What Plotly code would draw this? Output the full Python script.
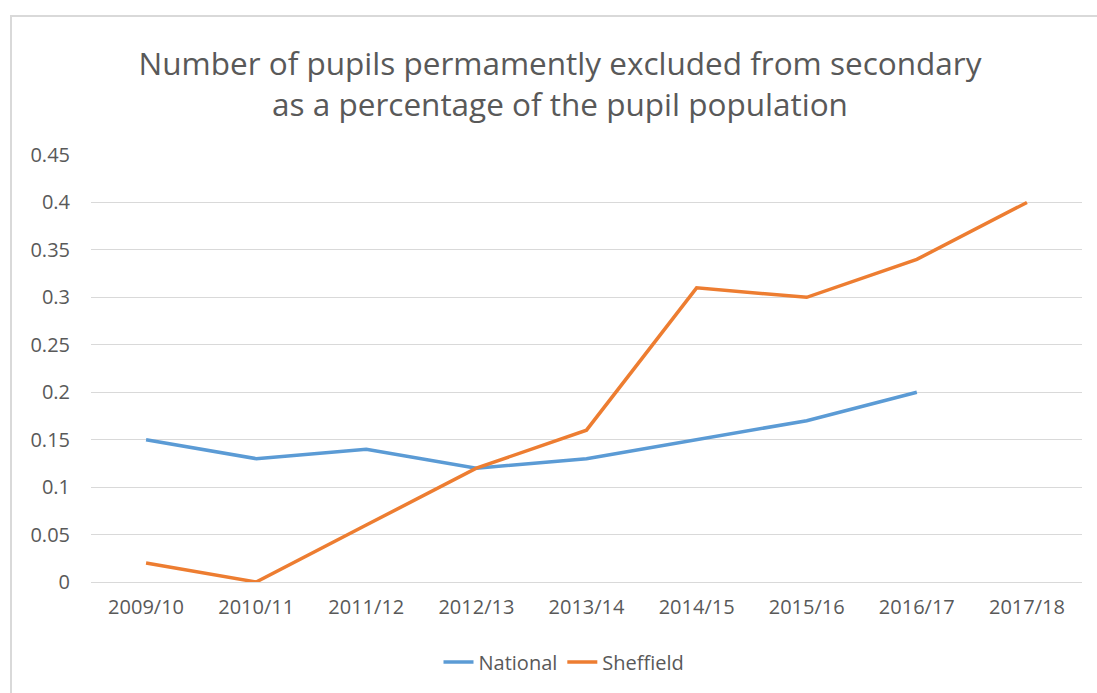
import plotly.graph_objects as go

categories = ["2009/10", "2010/11", "2011/12", "2012/13", "2013/14", "2014/15", "2015/16", "2016/17", "2017/18"]
national = [0.15, 0.13, 0.14, 0.12, 0.13, 0.15, 0.17, 0.20, None]
sheffield = [0.02, 0.0, 0.06, 0.12, 0.16, 0.31, 0.30, 0.34, 0.40]
y_ticks = [0, 0.05, 0.1, 0.15, 0.2, 0.25, 0.3, 0.35, 0.4, 0.45]
y_tick_text = ["0", "0.05", "0.1", "0.15", "0.2", "0.25", "0.3", "0.35", "0.4", "0.45"]

W, H = 1097, 693
L, R, T, B = 91, 15, 155, 111
pw, ph = W - L - R, H - T - B

FONT = "Open Sans"
GREY = "#595959"

fig = go.Figure()
fig.add_trace(go.Scatter(x=categories, y=national, mode="lines", name="National",
                         line=dict(color="#5B9BD5", width=3.5)))
fig.add_trace(go.Scatter(x=categories, y=sheffield, mode="lines", name="Sheffield",
                         line=dict(color="#ED7D31", width=3.5)))

fig.update_layout(
    width=W, height=H,
    margin=dict(l=L, r=R, t=T, b=B),
    paper_bgcolor="white", plot_bgcolor="white",
    font=dict(family=FONT, color=GREY),
    title=dict(text="Number of pupils permamently excluded from secondary<br>as a percentage of the pupil population",
               x=(560) / W, xanchor="center", y=1 - 75 / H, yanchor="middle",
               font=dict(size=31.5, color=GREY, family=FONT)),
    legend=dict(orientation="h", x=(564 - L) / pw, xanchor="center", y=-(662 - 582) / ph, yanchor="middle",
                font=dict(size=20, color=GREY), traceorder="normal"),
    xaxis=dict(type="category", range=[-0.5, 8.5], showgrid=False, zeroline=False, showline=False,
               ticks="", tickfont=dict(size=20, color=GREY), ticklabelstandoff=11),
    yaxis=dict(range=[0, 0.45], tickvals=y_ticks, ticktext=y_tick_text, showgrid=True,
               gridcolor="#d9d9d9", gridwidth=1, zeroline=True, zerolinecolor="#d9d9d9", zerolinewidth=1,
               showline=False, ticks="", tickfont=dict(size=20, color=GREY), ticklabelstandoff=20),
    showlegend=True,
)

fig.add_shape(type="rect", xref="paper", yref="paper",
              x0=(11 - L) / pw, x1=1.2, y0=-1.0, y1=(582 - 16) / ph,
              line=dict(color="#d9d9d9", width=2), fillcolor="rgba(0,0,0,0)", layer="below")

fig.write_html("out.html")
